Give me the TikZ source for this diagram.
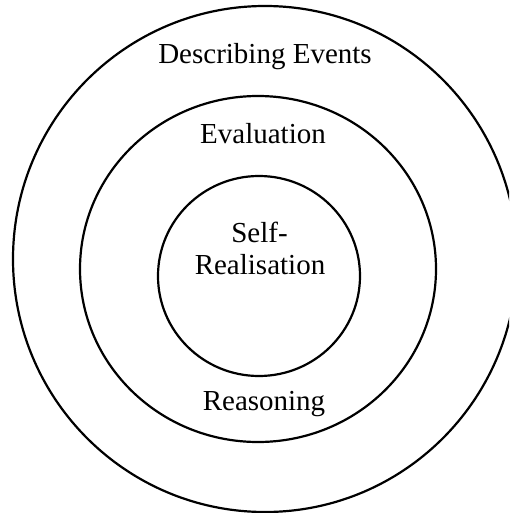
\documentclass[tikz,border=0pt]{standalone}
\usepackage{fontspec}
\setmainfont{Liberation Serif}
\usetikzlibrary{shapes.geometric}
\begin{document}
\begin{tikzpicture}[x=1pt,y=-1pt,
  ring/.style={ellipse, draw=black, line width=2.2pt, inner sep=0pt},
  label/.style={font=\fontsize{29}{32}\selectfont, anchor=base, inner sep=0pt, align=center}]
  \useasboundingbox (0,0) rectangle (509,513);
  \clip (0,0) rectangle (509,513);
  % three nested rings
  \node[ring, minimum width=504, minimum height=506] (outer) at (265,259) {};
  \node[ring, minimum width=356, minimum height=346] (middle) at (258,269) {};
  \node[ring, minimum width=202, minimum height=200] (inner) at (259,276) {};
  % ring labels
  \node[label] (events) at (265,64) {Describing Events};
  \node[label] (evaluation) at (263,144) {Evaluation};
  \node[label] (self) at (259.5,242) {Self-};
  \node[label] (realisation) at (260,274) {Realisation};
  \node[label] (reasoning) at (264,410) {Reasoning};
\end{tikzpicture}
\end{document}
